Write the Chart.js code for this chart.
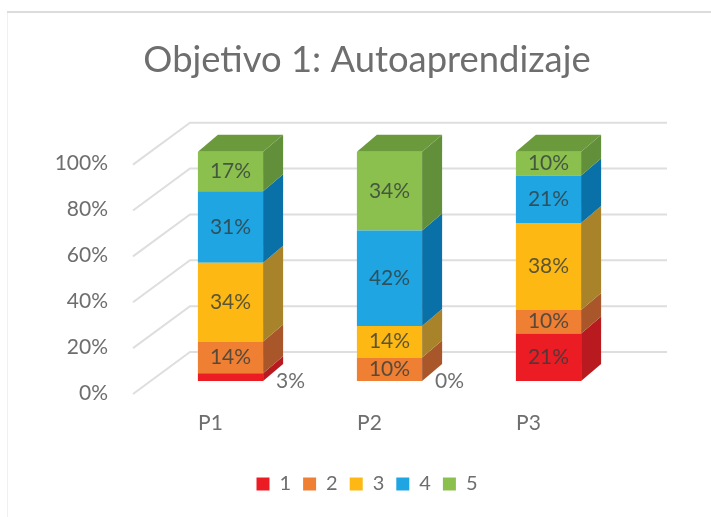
<!DOCTYPE html>
<html>
<head>
<meta charset="utf-8">
<style>
  html,body{margin:0;padding:0;background:#fff;}
  #wrap{width:711px;height:517px;}
</style>
<script src="https://cdn.jsdelivr.net/npm/chart.js@4"></script>
</head>
<body>
<div id="wrap"><canvas id="chart" width="711" height="517"></canvas></div>
<script>
// values, in percent
const categories = ['P1','P2','P3'];
const serie1 = [3.4, 0, 20.7];
const serie2 = [13.8, 10.3, 10.3];
const serie3 = [34.4, 13.7, 37.9];
const serie4 = [31.1, 41.6, 20.7];
const serie5 = [17.3, 34.4, 10.4];
const seriesNames = ['1','2','3','4','5'];
const yTicks = [0,20,40,60,80,100];

const frontColors = ['#ec1c24','#ee7f33','#fdb813','#1fa5e2','#8cc04e'];
const sideColors = ['#b81a20','#a9562a','#a8832a','#0a70a8','#62903a'];
const topColor = '#6b9a3c';

// how far the 3d box goes back, in px
const depthX = 20, depthY = 17;
const fontName = 'Lato, "Open Sans", sans-serif';

// wall and back lines, taken from the y scale
const wallGrid = {
  id:'wallGrid',
  beforeDatasetsDraw(chart){
    const {ctx, scales:{x,y}} = chart;
    ctx.save();
    ctx.strokeStyle = '#dedede';
    ctx.lineWidth = 2;
    yTicks.forEach(v=>{
      const py = y.getPixelForValue(v);
      ctx.beginPath();
      ctx.moveTo(x.left-18, py+13);
      ctx.lineTo(x.left+39, py-29);
      ctx.lineTo(x.right+39, py-29);
      ctx.stroke();
    });
    ctx.restore();
  }
};

// side and top faces of each bar, plus the % labels
const box3d = {
  id:'box3d',
  afterDatasetsDraw(chart){
    const {ctx} = chart;
    ctx.save();
    chart.data.datasets.forEach((ds,di)=>{
      const meta = chart.getDatasetMeta(di);
      meta.data.forEach((bar,i)=>{
        if(!ds.data[i]) return;
        const right = bar.x + bar.width/2;
        ctx.fillStyle = sideColors[di];
        ctx.beginPath();
        ctx.moveTo(right, bar.base);
        ctx.lineTo(right+depthX, bar.base-depthY);
        ctx.lineTo(right+depthX, bar.y-depthY);
        ctx.lineTo(right, bar.y);
        ctx.closePath();
        ctx.fill();
        if(di === chart.data.datasets.length-1){
          const left = bar.x - bar.width/2;
          ctx.fillStyle = topColor;
          ctx.beginPath();
          ctx.moveTo(left, bar.y);
          ctx.lineTo(left+depthX, bar.y-depthY);
          ctx.lineTo(right+depthX, bar.y-depthY);
          ctx.lineTo(right, bar.y);
          ctx.closePath();
          ctx.fill();
        }
      });
    });
    ctx.font = '21px '+fontName;
    ctx.textAlign = 'center';
    ctx.textBaseline = 'middle';
    chart.data.datasets.forEach((ds,di)=>{
      const meta = chart.getDatasetMeta(di);
      meta.data.forEach((bar,i)=>{
        const v = ds.data[i];
        const label = v.toFixed(0)+'%';
        if(v < 5){
          // too small, goes next to the bar
          ctx.fillStyle = '#6f6f6f';
          ctx.fillText(label, bar.x+60, bar.base);
        }else{
          ctx.fillStyle = 'rgba(50,60,60,0.8)';
          ctx.fillText(label, bar.x, (bar.y+bar.base)/2);
        }
      });
    });
    ctx.restore();
  }
};

// outer frame of the screenshot
const frame = {
  id:'frame',
  beforeDraw(chart){
    const {ctx} = chart;
    ctx.save();
    ctx.fillStyle = '#dcdcdc';
    ctx.fillRect(7,11,704,2);
    ctx.fillStyle = '#f0f0f0';
    ctx.fillRect(7,13,1,504);
    ctx.restore();
  }
};

const allSeries = [serie1,serie2,serie3,serie4,serie5];

new Chart(document.getElementById('chart'),{
  type:'bar',
  data:{
    labels:categories,
    datasets:allSeries.map((vals,i)=>({
      label:seriesNames[i],
      data:vals,
      backgroundColor:frontColors[i],
      borderWidth:0,
      categoryPercentage:1,
      barPercentage:0.41
    }))
  },
  options:{
    responsive:false,
    animation:false,
    // left padding keeps title and legend centred where the picture has them
    layout:{padding:{left:23,right:0,top:0,bottom:13}},
    plugins:{
      title:{
        display:true,
        text:'Objetivo 1: Autoaprendizaje',
        color:'#6e6e6e',
        font:{family:fontName,size:36.4,weight:'normal'},
        padding:{top:38,bottom:70}
      },
      legend:{
        position:'bottom',
        labels:{
          boxWidth:13,
          boxHeight:13,
          padding:12,
          color:'#6e6e6e',
          font:{family:fontName,size:20}
        }
      },
      tooltip:{enabled:false}
    },
    scales:{
      x:{
        stacked:true,
        grid:{display:false},
        border:{display:false},
        afterFit(s){ s.height = 81; },
        ticks:{color:'#6e6e6e',font:{family:fontName,size:21},padding:22,labelOffset:-20,maxRotation:0}
      },
      y:{
        stacked:true,
        min:0,
        max:100,
        grid:{display:false},
        border:{display:false},
        afterFit(s){ s.width = 128; },
        ticks:{
          stepSize:20,
          color:'#6e6e6e',
          font:{family:fontName,size:21},
          padding:35,
          labelOffset:12,
          callback:v=>v+'%'
        }
      },
      // empty axis, only reserves the room on the right of the plot
      spacer:{
        axis:'y',
        position:'right',
        min:0,
        max:100,
        grid:{display:false},
        border:{display:false},
        ticks:{display:false},
        afterFit(s){ s.width = 83; }
      }
    }
  },
  plugins:[frame,wallGrid,box3d]
});
</script>
</body>
</html>
